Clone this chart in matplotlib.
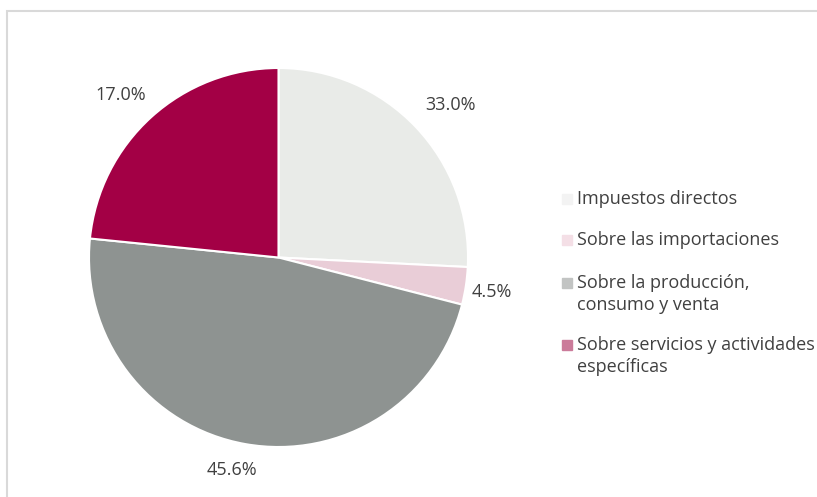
import matplotlib
matplotlib.use('Agg')
import matplotlib.pyplot as plt
from matplotlib.patches import Rectangle
import numpy as np

categories = ['Impuestos directos', 'Sobre las importaciones',
              'Sobre la producción,\nconsumo y venta',
              'Sobre servicios y actividades\nespecíficas']
# slice sizes as drawn in the picture
values = [25.8, 3.2, 47.6, 23.4]
# printed data labels
pct_labels = ['33.0%', '4.5%', '45.6%', '17.0%']

slice_colors = ['#E9EBE8', '#E9CDD7', '#8E9391', '#A30045']
legend_colors = ['#F3F3F3', '#F4DFE6', '#C2C4C3', '#CB7B9A']

plt.rcParams['font.family'] = ['Open Sans', 'DejaVu Sans']

W, H = 817, 497
fig = plt.figure(figsize=(W / 100, H / 100), dpi=100)

# chart frame
fig.patches.append(Rectangle((7 / W, -0.1), 1.2, (497 - 11) / H + 0.1,
                             transform=fig.transFigure, fill=False,
                             edgecolor='#D9D9D9', lw=1.5))

cx, cy, r = 278.5, 257.5, 189.5
ax = fig.add_axes([(cx - r) / W, (H - cy - r) / H, 2 * r / W, 2 * r / H])
wedges, _ = ax.pie(values, colors=slice_colors, startangle=90,
                   counterclock=False, radius=1,
                   wedgeprops=dict(edgecolor='white', linewidth=1.5))
ax.set_xlim(-1, 1)
ax.set_ylim(-1, 1)
ax.set_aspect('equal')
ax.axis('off')

# label distance (radii) and angular nudge (deg) per slice
dists = [1.215, 1.141, 1.148, 1.194]
nudge = [-2.0, -0.5, -2.2, 2.0]
for w, lab, d, n in zip(wedges, pct_labels, dists, nudge):
    ang = np.deg2rad((w.theta1 + w.theta2) / 2 + n)
    ax.text(d * np.cos(ang), d * np.sin(ang), lab, ha='center', va='center',
            fontsize=13, color='#404040', clip_on=False)

# legend
leg_y = [199, 240, 294, 356]
for c, lab, y in zip(legend_colors, categories, leg_y):
    nlines = lab.count('\n') + 1
    top = y - (nlines - 1) * 11
    fig.patches.append(Rectangle((562 / W, 1 - (top + 5) / H), 10 / W, 10 / H,
                                 transform=fig.transFigure, color=c))
    fig.text(577 / W, 1 - y / H, lab, ha='left', va='center', fontsize=13,
             color='#404040', linespacing=1.3)

fig.savefig('out.png', dpi=100)
